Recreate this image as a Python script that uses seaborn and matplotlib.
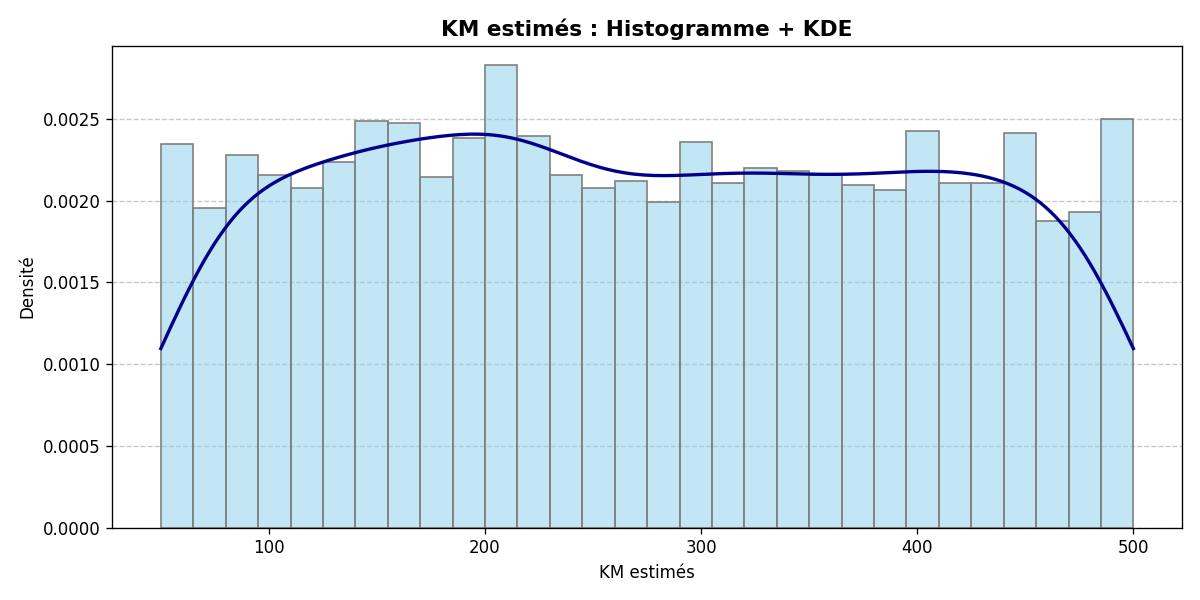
import numpy as np
import pandas as pd
import matplotlib
matplotlib.use("Agg")
import matplotlib.pyplot as plt
import seaborn as sns

bin_start = 50
bin_width = 15
densities = [0.002343, 0.001954, 0.002279, 0.002155, 0.002078, 0.002233, 0.002487, 0.002474,
             0.002143, 0.002383, 0.002825, 0.002396, 0.002155, 0.002078, 0.002117, 0.001987,
             0.002357, 0.002104, 0.002195, 0.002182, 0.002155, 0.002091, 0.002065, 0.002422,
             0.002104, 0.002104, 0.002409, 0.001876, 0.001928, 0.002500]
centers = [bin_start + bin_width * (i + 0.5) for i in range(len(densities))]
edges = [bin_start + bin_width * i for i in range(len(densities) + 1)]
df = pd.DataFrame({"km": centers, "w": densities})

fig, ax = plt.subplots(figsize=(10, 5), dpi=120)
sns.histplot(data=df, x="km", weights="w", bins=edges, stat="density",
             color="skyblue", alpha=0.5, edgecolor="gray", ax=ax)
sns.kdeplot(data=df, x="km", weights="w", bw_adjust=0.45, cut=1, clip=(50, 500),
            color="darkblue", linewidth=2, ax=ax)
ax.set_title("KM estimés : Histogramme + KDE", fontsize=13, fontweight="bold")
ax.set_xlabel("KM estimés")
ax.set_ylabel("Densité")
ax.grid(axis="y", linestyle="--", alpha=0.7)
ax.set_axisbelow(True)
ax.set_ylim(0, 0.00295)
ax.set_xlim(27.5, 522.5)
plt.tight_layout()
plt.savefig("out.png")
